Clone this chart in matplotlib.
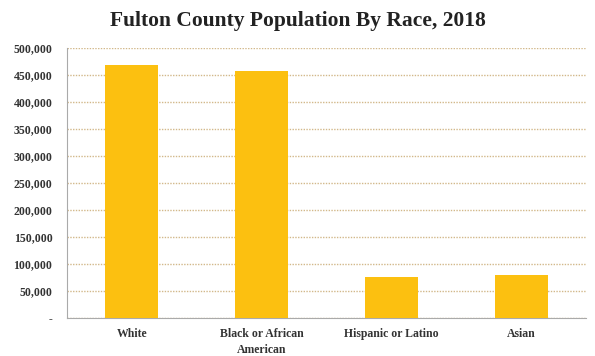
import matplotlib
matplotlib.use("Agg")
import matplotlib.pyplot as plt
from matplotlib.ticker import FuncFormatter

# data
races = ["White", "Black or African\nAmerican", "Hispanic or Latino", "Asian"]
population = [468500, 457500, 76500, 79500]
y_ticks = list(range(0, 500001, 50000))

plt.rcParams['font.family'] = ['Liberation Serif', 'DejaVu Serif']

fig = plt.figure(figsize=(5.95, 3.56), dpi=100)
ax = fig.add_axes([67 / 595, 1 - 318 / 356, (586 - 67) / 595, (318 - 48) / 356])

x = range(len(races))
ax.bar(x, population, width=0.41, color="#FCC010", zorder=3)

ax.set_xlim(-0.5, len(races) - 0.5)
ax.set_ylim(0, 500000)
ax.set_yticks(y_ticks)
ax.yaxis.set_major_formatter(FuncFormatter(lambda v, p: "-" if v == 0 else f"{int(v):,}"))
ax.set_xticks(list(x))
ax.set_xticklabels(races, fontsize=8.5, fontweight="bold", color="#333333",
                   linespacing=1.45, va="top")
for lbl in ax.get_yticklabels():
    lbl.set_fontsize(8.5)
    lbl.set_fontweight("bold")
    lbl.set_color("#333333")

ax.tick_params(axis="both", length=0)
ax.tick_params(axis="x", pad=7)
ax.tick_params(axis="y", pad=10.5)

ax.grid(axis="y", linestyle=(0, (1, 1)), color="#D2B88A", linewidth=1.0, zorder=0)
for side in ["top", "right"]:
    ax.spines[side].set_visible(False)
ax.spines["left"].set_color("#AAAAAA")
ax.spines["bottom"].set_color("#AAAAAA")

fig.text(0.5, 0.94, "Fulton County Population By Race, 2018", ha="center", va="center",
         fontsize=15.5, fontweight="bold", color="#222222")

fig.savefig("out.png", dpi=100)
